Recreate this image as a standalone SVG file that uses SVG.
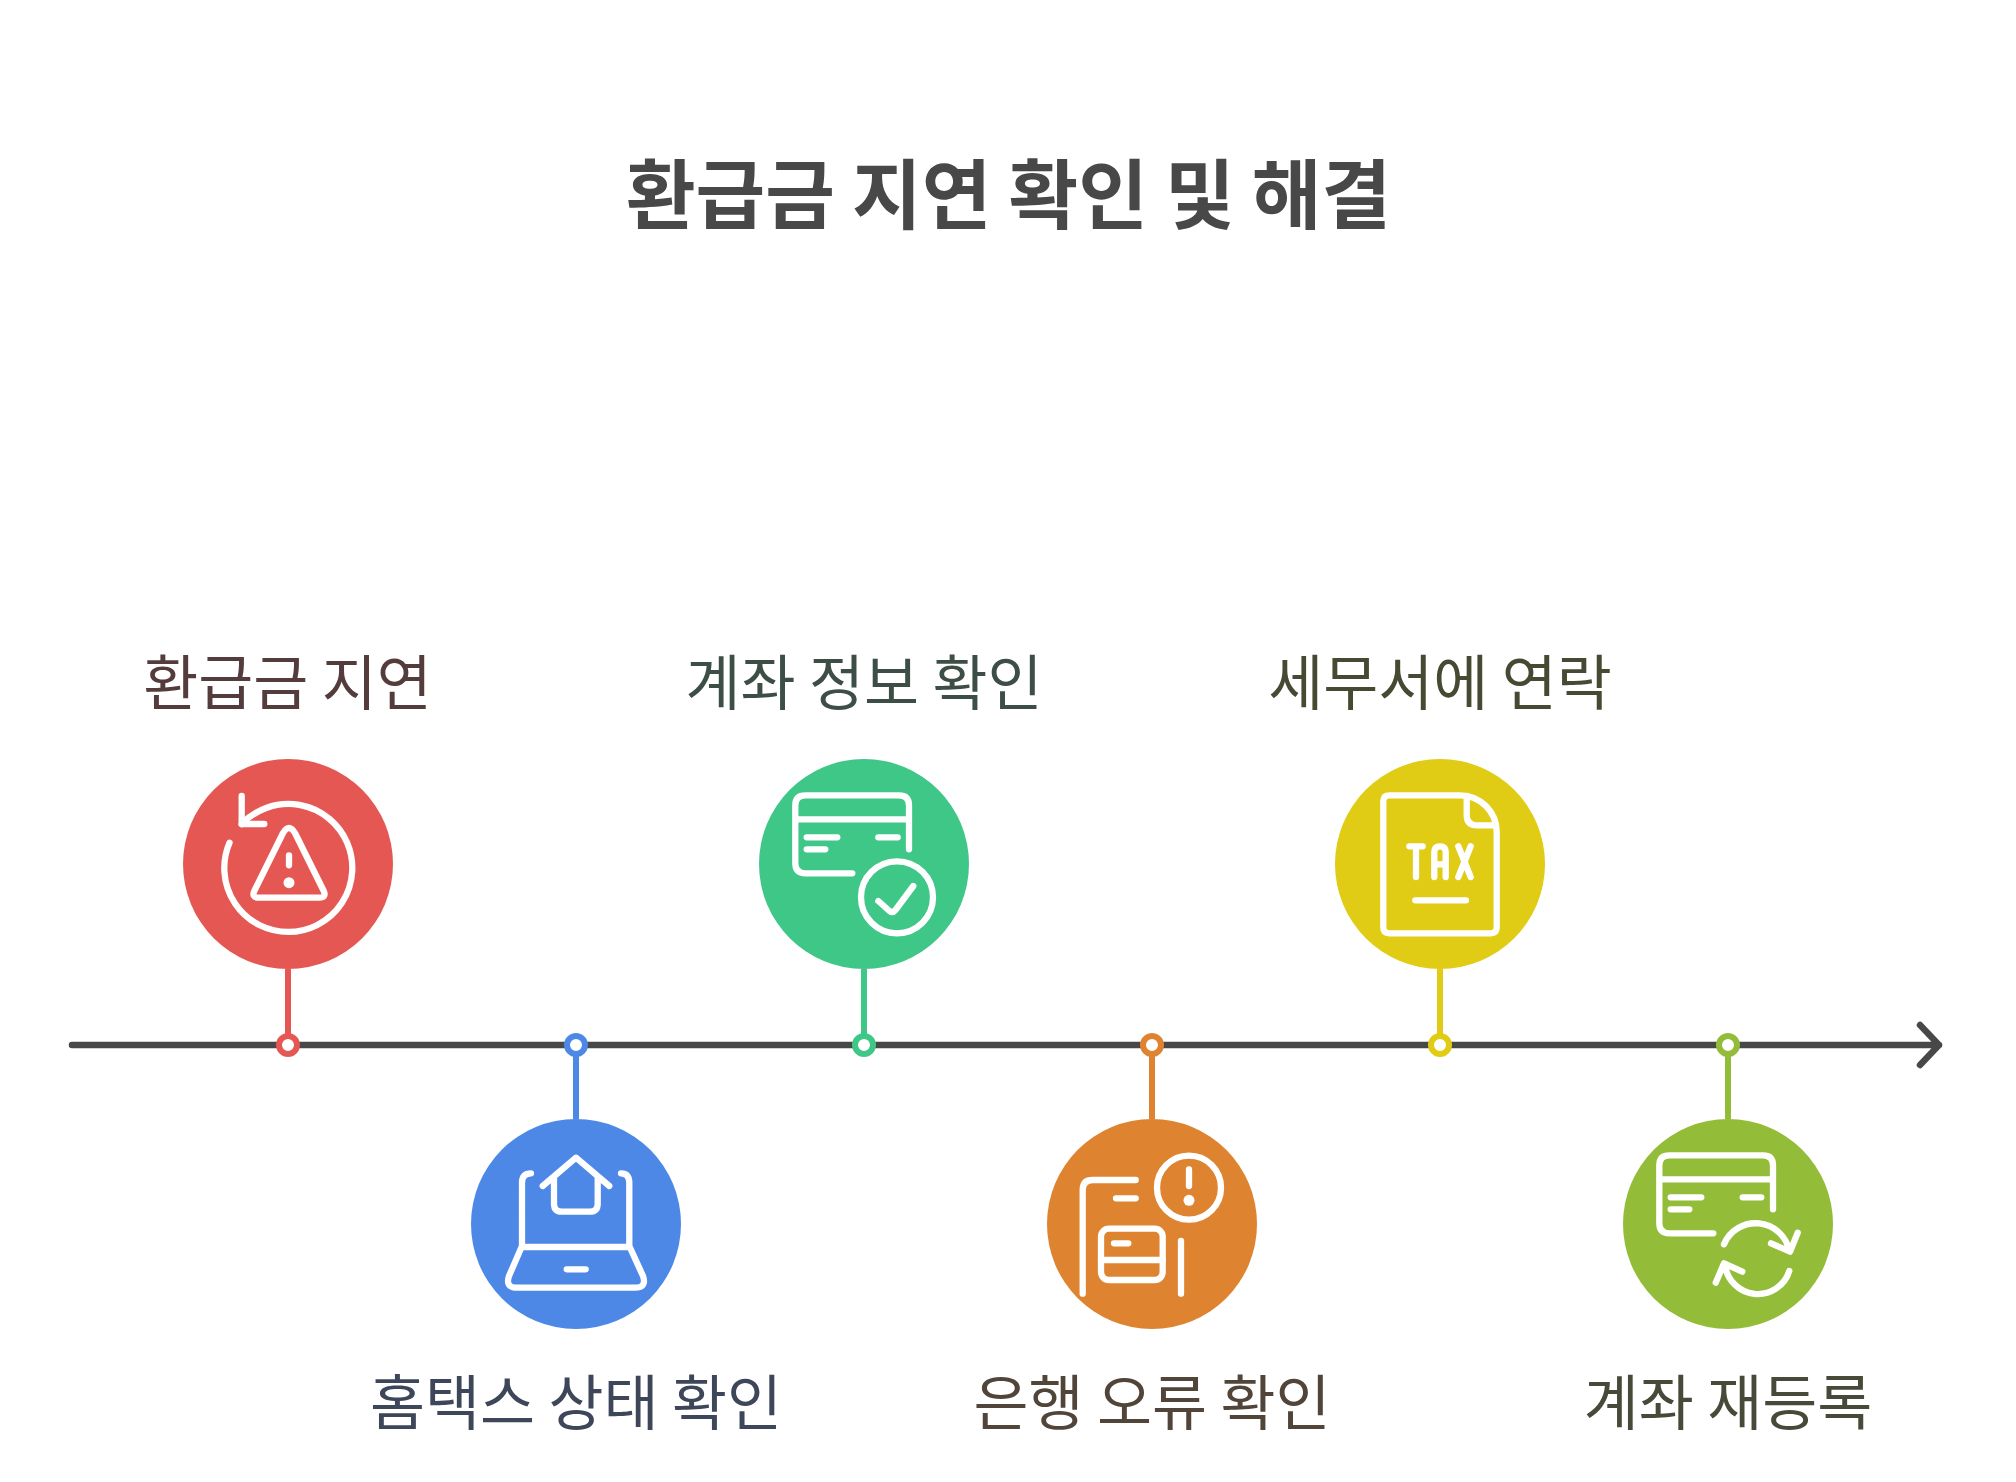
<svg xmlns="http://www.w3.org/2000/svg" width="2016" height="1482" viewBox="0 0 2016 1482">
<style>
text{font-family:"Noto Sans CJK KR","Noto Sans",sans-serif;text-anchor:middle}
.title{font-size:75.7px;font-weight:700;fill:#484848}
.label{font-size:59.8px;font-weight:400}
.ic{fill:none;stroke:#fff;stroke-width:6.3;stroke-linecap:round;stroke-linejoin:round}
.dotw{fill:#fff}
.stem{stroke-width:6;fill:none}
.pin{fill:#fff;stroke-width:6}
</style>
<rect width="2016" height="1482" fill="#fff"/>
<text class="title" x="1008.500" y="223">환급금 지연 확인 및 해결</text>
<g transform="translate(0,1)">
<g id="connectors">
<path d="M72 1044H1939M1920 1024L1939 1044L1920 1064" fill="none" stroke="#484848" stroke-width="6.500" stroke-linecap="round" stroke-linejoin="round"/>
<path class="stem" stroke="#E55753" d="M288 968V1035"/>
<path class="stem" stroke="#4E88E7" d="M576 1053V1118"/>
<path class="stem" stroke="#3EC787" d="M864 968V1035"/>
<path class="stem" stroke="#DE8431" d="M1152 1053V1118"/>
<path class="stem" stroke="#E0CB15" d="M1440 968V1035"/>
<path class="stem" stroke="#93BD39" d="M1728 1053V1118"/>
<circle class="pin" stroke="#E55753" cx="288" cy="1044" r="9"/>
<circle class="pin" stroke="#4E88E7" cx="576" cy="1044" r="9"/>
<circle class="pin" stroke="#3EC787" cx="864" cy="1044" r="9"/>
<circle class="pin" stroke="#DE8431" cx="1152" cy="1044" r="9"/>
<circle class="pin" stroke="#E0CB15" cx="1440" cy="1044" r="9"/>
<circle class="pin" stroke="#93BD39" cx="1728" cy="1044" r="9"/>
</g>
<g id="node-1">
<text class="label" x="287.500" y="704" fill="#553C3C">환급금 지연</text>
<circle cx="288" cy="863" r="105" fill="#E55753"/>
<path class="ic" d="M229.500 841.700A64 64 0 1 0 241.700 823.100"/>
<path class="ic" d="M241.700 795V823H264.300"/>
<path class="ic" d="M283 832L254.500 889.500Q251 896.700 259 896.700H319Q327 896.700 323.500 889.500L295 832Q289 822 283 832Z"/>
<path class="ic" d="M289 854.300V864.300"/>
<circle class="dotw" cx="289" cy="881.700" r="5.500"/>
</g>
<g id="node-2">
<circle cx="576" cy="1223" r="105" fill="#4E88E7"/>
<path class="ic" d="M531 1172.300Q522 1172.300 522 1181.700V1245L509 1275Q505 1286.700 517 1286.700H635Q647 1286.700 643 1275L629.300 1245V1181.700Q629.300 1172.300 621 1172.300M522 1246H629.300M566.700 1268.300H585.700M542.700 1185L576 1156.700L609.300 1185M554 1176V1202.700Q554 1210.700 562 1210.700H589.700Q597.700 1210.700 597.700 1202.700V1176"/>
<text class="label" x="576" y="1424" fill="#3E4759">홈택스 상태 확인</text>
</g>
<g id="node-3">
<text class="label" x="864" y="704" fill="#3C4E45">계좌 정보 확인</text>
<circle cx="864" cy="863" r="105" fill="#3EC787"/>
<path class="ic" d="M909 848.300V804.300Q909 794.300 899 794.300H805.300Q795.300 794.300 795.300 804.300V862.300Q795.300 872.300 805.300 872.300H852.300M795.300 818.300H909M806.700 836.300H837.300M806.700 848.300H825.300M878.300 836.300H897.700"/>
<circle class="ic" cx="897" cy="896.300" r="36"/>
<path class="ic" d="M878.300 900L889.500 910Q892.700 912.500 895.500 909L913.300 885"/>
</g>
<g id="node-4">
<circle cx="1152" cy="1223" r="105" fill="#DE8431"/>
<path class="ic" d="M1082.700 1292.700V1189Q1082.700 1179 1092.700 1179H1135.700M1116 1197.300H1135.700M1181 1240V1292.700M1189 1168.300V1185"/>
<circle class="ic" cx="1189" cy="1186.700" r="32"/>
<circle class="dotw" cx="1189" cy="1199.300" r="5.500"/>
<rect class="ic" x="1101" y="1227.700" width="61.700" height="51.300" rx="8"/>
<path class="ic" d="M1101 1259H1162.700M1114 1242.300H1128.300"/>
<text class="label" x="1152" y="1424" fill="#51453A">은행 오류 확인</text>
</g>
<g id="node-5">
<text class="label" x="1440" y="704" fill="#474A32">세무서에 연락</text>
<circle cx="1440" cy="863" r="105" fill="#E0CB15"/>
<path class="ic" d="M1460 794.300H1389.300Q1383.300 794.300 1383.300 800.300V926.300Q1383.300 932.300 1389.300 932.300H1490.700Q1496.700 932.300 1496.700 926.300V831A36.700 36.700 0 0 0 1460 794.300"/>
<path class="ic" d="M1466.700 795V814.300Q1466.700 824.300 1476.700 824.300H1495"/>
<path class="ic" d="M1409.300 845.300H1422.700M1416 845.300V876M1434.300 876V851Q1434.300 845.300 1440 845.300Q1445.700 845.300 1445.700 851V876M1434.300 863.300H1445.700M1458.300 876L1470.700 845.300M1458.300 845.300L1470.700 876M1415.300 899.300H1466"/>
</g>
<g id="node-6">
<circle cx="1728" cy="1223" r="105" fill="#93BD39"/>
<path class="ic" d="M1773 1208.300V1164.300Q1773 1154.300 1763 1154.300H1669.300Q1659.300 1154.300 1659.300 1164.300V1222.300Q1659.300 1232.300 1669.300 1232.300H1713.300M1659.300 1178.300H1773M1670.700 1196.300H1701.300M1670.700 1208.300H1689.300M1742.700 1196.300H1761.300"/>
<path class="ic" d="M1724 1243.300A34.300 34.300 0 0 1 1789.300 1250M1771 1242.300L1790 1250.700L1797.700 1231.700M1789.300 1270A33 33 0 0 1 1725 1263.300M1742.300 1270.700L1724 1262.300L1715.700 1281.700"/>
<text class="label" x="1728" y="1424" fill="#474A38">계좌 재등록</text>
</g>
</g>
</svg>
